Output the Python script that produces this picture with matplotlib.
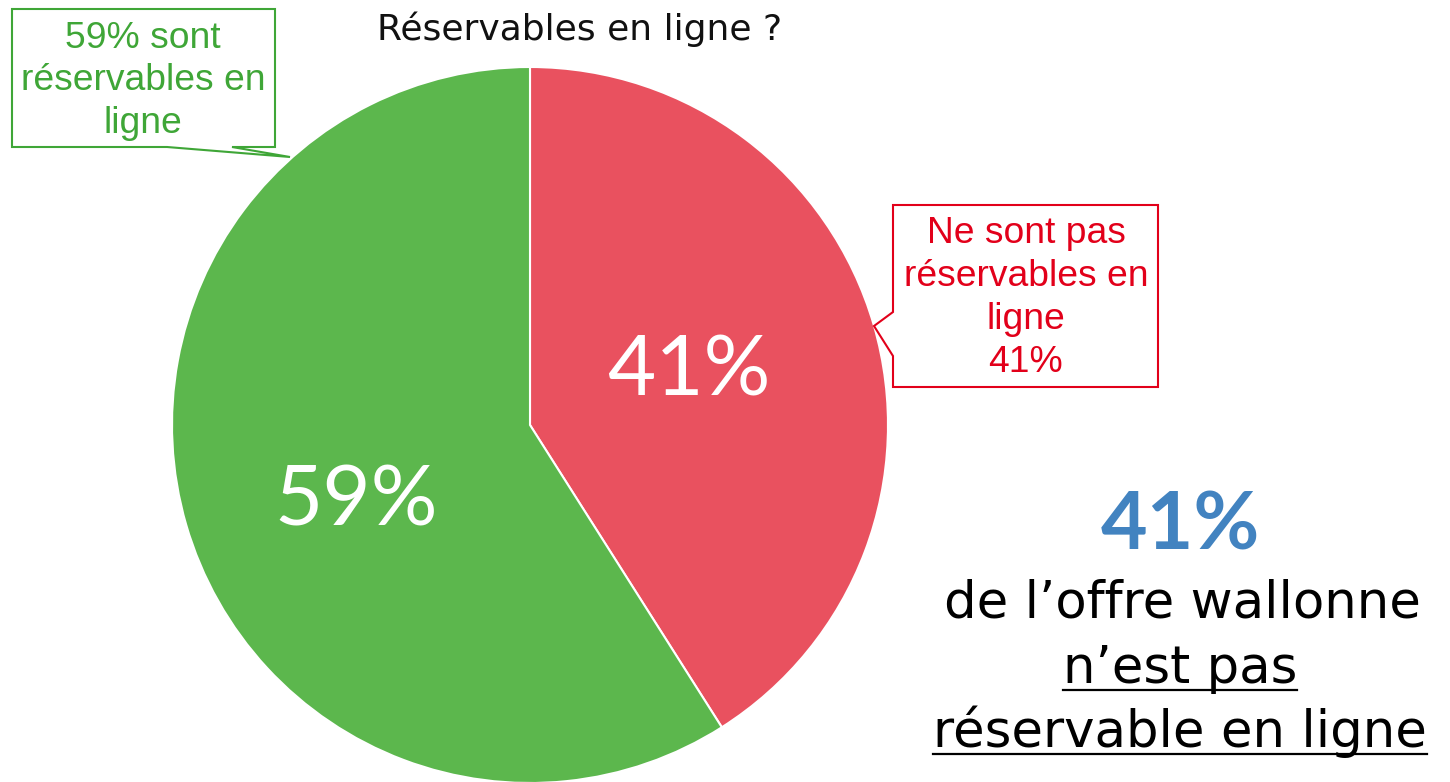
import matplotlib
matplotlib.use("Agg")
import matplotlib.pyplot as plt
from matplotlib.patches import Polygon

# data
categories = ["Ne sont pas réservables en ligne", "Sont réservables en ligne"]
values = [41, 59]
colors = ["#E9515F", "#5CB74D"]

W, H = 1450, 782
plt.rcParams['font.family'] = ['DejaVu Sans']

fig = plt.figure(figsize=(W / 100, H / 100), dpi=100)
ax = fig.add_axes([0, 0, 1, 1])


def Y(py):
    # pixel row -> data y
    return H - py


wedges, texts, autotexts = ax.pie(values, colors=colors, startangle=90, counterclock=False,
                                  center=(530, Y(425)), radius=358,
                                  autopct=lambda p: '%d%%' % round(p), pctdistance=0.5,
                                  wedgeprops=dict(edgecolor='white', linewidth=1.5),
                                  textprops=dict(color='white', fontsize=60, family=['Lato']))
ax.set_xlim(0, W)
ax.set_ylim(0, H)
ax.axis('off')

autotexts[0].set_position((689, Y(372)))
autotexts[1].set_position((356, Y(502)))
for t in autotexts:
    t.set_ha('center')
    t.set_va('center')

ax.text(580, Y(40), "Réservables en ligne ?", ha='center', va='baseline', fontsize=26, color='#111111')

# callout green
green_txt = "#3FA637"
box_g = [(12, 9), (275, 9), (275, 147), (232, 147), (290, 157), (167, 147), (12, 147)]
ax.add_patch(Polygon([(x, Y(y)) for x, y in box_g], closed=True, facecolor='white',
                     edgecolor=green_txt, linewidth=1.5, zorder=5))
ax.text(143, Y(81), "59% sont\nréservables en\nligne", ha='center', va='center',
        family=['Liberation Sans'], fontsize=26.8, color=green_txt, linespacing=1.29, zorder=6)

# callout red
red_txt = "#E2001A"
box_r = [(893, 205), (1158, 205), (1158, 387), (893, 387), (893, 356), (874, 326), (893, 312)]
ax.add_patch(Polygon([(x, Y(y)) for x, y in box_r], closed=True, facecolor='white',
                     edgecolor=red_txt, linewidth=1.5, zorder=5))
ax.text(1026, Y(298), "Ne sont pas\nréservables en\nligne\n41%", ha='center', va='center',
        family=['Liberation Sans'], fontsize=26.8, color=red_txt, linespacing=1.29, zorder=6)

# right side message
ax.text(1180, Y(550), "41%", ha='center', va='baseline', fontsize=58, color='#4283C0',
        weight='bold', family=['Lato'])
ax.text(1182, Y(618), "de l’offre wallonne", ha='center', va='baseline', fontsize=37, color='black')
t1 = ax.text(1180, Y(683), "n’est pas", ha='center', va='baseline', fontsize=37, color='black')
t2 = ax.text(1180, Y(747), "réservable en ligne", ha='center', va='baseline', fontsize=37, color='black')

fig.canvas.draw()
r = fig.canvas.get_renderer()
for t, uy in [(t1, 690), (t2, 754)]:
    bb = t.get_window_extent(r)
    ax.plot([bb.x0, bb.x1], [Y(uy), Y(uy)], color='black', linewidth=1.6)

fig.savefig("out.png", dpi=100)
